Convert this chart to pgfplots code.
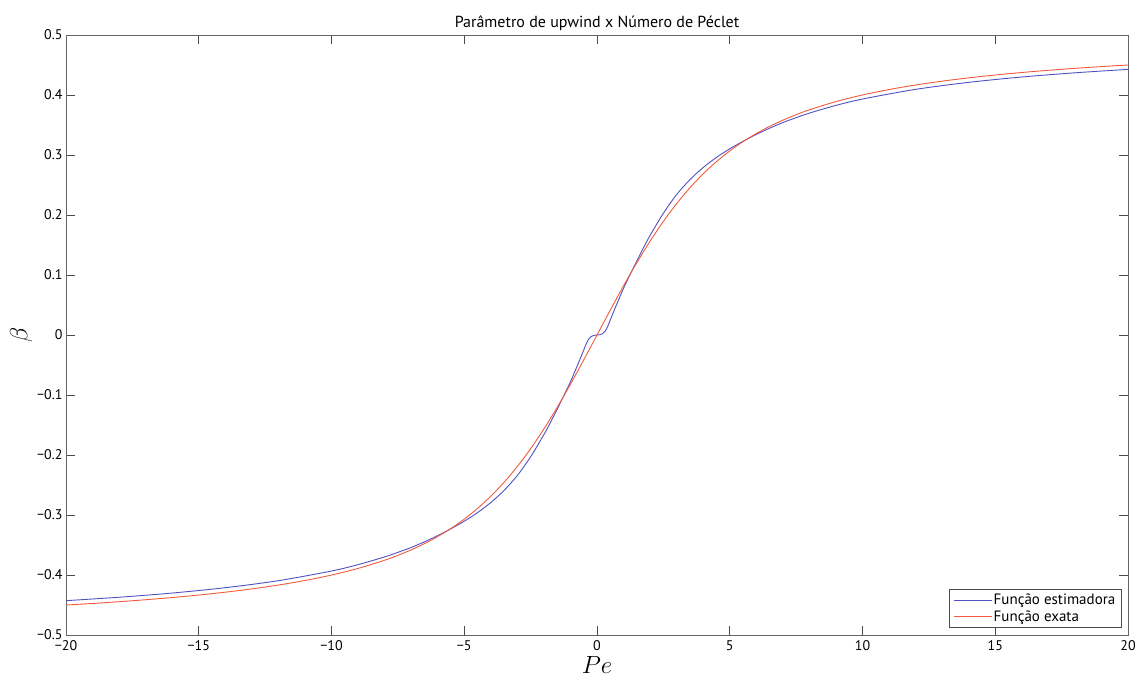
\documentclass[border=0pt]{standalone}
\usepackage{pgfplots}
\pgfplotsset{compat=1.18}
\usepackage{fontspec}
\setmainfont{PT Sans}
\definecolor{estblue}{RGB}{80,80,195}
\definecolor{exared}{RGB}{242,90,60}
\begin{document}
\begin{tikzpicture}
\begin{axis}[
  scale only axis,
  width=1062pt, height=600pt,
  xmin=-20, xmax=20, ymin=-0.5, ymax=0.5,
  xtick={-20,-15,...,20},
  xticklabels={−20,−15,−10,−5,0,5,10,15,20},
  ytick={-0.5,-0.4,...,0.51},
  yticklabels={−0.5,−0.4,−0.3,−0.2,−0.1,0,0.1,0.2,0.3,0.4,0.5},
  tick align=inside,
  major tick length=9pt,
  tick style={black!70, line width=0.6pt},
  axis line style={black!60, line width=0.8pt},
  ticklabel style={font=\fontsize{14}{16}\selectfont},
  xticklabel style={yshift=-2pt},
  title={Parâmetro de upwind x Número de Péclet},
  title style={font=\fontsize{16}{18}\selectfont, yshift=-5pt},
  xlabel={$Pe$},
  ylabel={$\beta$},
  xlabel style={font=\fontsize{24}{26}\selectfont, yshift=1pt},
  ylabel style={font=\fontsize{24}{26}\selectfont, yshift=-2pt},
  legend cell align=left,
  legend style={font=\fontsize{15}{17}\selectfont, draw=black!70, line width=0.6pt, inner xsep=4pt, inner ysep=3pt, at={(0.994,0.012)}, anchor=south east, row sep=0pt},
  legend image post style={xscale=2.2, line width=0.7pt},
  every axis plot/.append style={line width=0.9pt, smooth},
]
\addplot[estblue] coordinates {
(-20,-0.4427)(-18,-0.4370)(-16,-0.4300)(-14,-0.4211)(-12,-0.4094)(-10,-0.3933)
(-9,-0.3827)(-8,-0.3698)(-7.5,-0.3622)(-7,-0.3541)(-6.5,-0.3447)(-6,-0.3343)
(-5.5,-0.3228)(-5,-0.3103)(-4.5,-0.2960)(-4,-0.2792)(-3.5,-0.2589)(-3,-0.2341)
(-2.5,-0.2029)(-2,-0.1660)(-1.75,-0.1454)(-1.5,-0.1236)(-1.25,-0.1011)(-1,-0.0780)
(-0.875,-0.0650)(-0.75,-0.0520)(-0.6,-0.0360)(-0.5,-0.0250)(-0.4,-0.0140)(-0.3,-0.0060)
(-0.2,-0.0020)(-0.1,-0.0005)(0,0)
(0.1,0.0005)(0.2,0.0020)(0.3,0.0060)(0.4,0.0140)(0.5,0.0250)(0.6,0.0360)
(0.75,0.0520)(0.875,0.0650)(1,0.0780)(1.25,0.1011)(1.5,0.1236)(1.75,0.1454)
(2,0.1660)(2.5,0.2029)(3,0.2341)(3.5,0.2589)(4,0.2792)(4.5,0.2960)
(5,0.3103)(5.5,0.3228)(6,0.3343)(6.5,0.3447)(7,0.3541)(7.5,0.3622)
(8,0.3698)(9,0.3827)(10,0.3933)(12,0.4094)(14,0.4211)(16,0.4300)
(18,0.4370)(20,0.4427)
};
\addlegendentry{Função estimadora}
\addplot[exared] coordinates {
(-20,-0.45)(-19,-0.44737)(-18,-0.44444)(-17,-0.44118)(-16,-0.4375)(-15,-0.43333)
(-14,-0.42857)(-13,-0.42308)(-12,-0.41667)(-11,-0.40910)(-10,-0.40005)(-9,-0.38901)
(-8,-0.37534)(-7.5,-0.36722)(-7,-0.35806)(-6.5,-0.34766)(-6,-0.33582)(-5.5,-0.32231)
(-5,-0.30678)(-4.5,-0.28901)(-4,-0.26866)(-3.5,-0.24542)(-3,-0.21906)(-2.5,-0.18943)
(-2,-0.15652)(-1.75,-0.13892)(-1.5,-0.12055)(-1.25,-0.10155)(-1,-0.08198)(-0.75,-0.06191)
(-0.5,-0.04150)(-0.25,-0.02081)(0,0)(0.25,0.02081)(0.5,0.04150)(0.75,0.06191)
(1,0.08198)(1.25,0.10155)(1.5,0.12055)(1.75,0.13892)(2,0.15652)(2.5,0.18943)
(3,0.21906)(3.5,0.24542)(4,0.26866)(4.5,0.28901)(5,0.30678)(5.5,0.32231)
(6,0.33582)(6.5,0.34766)(7,0.35806)(7.5,0.36722)(8,0.37534)(9,0.38901)
(10,0.40005)(11,0.40910)(12,0.41667)(13,0.42308)(14,0.42857)(15,0.43333)
(16,0.4375)(17,0.44118)(18,0.44444)(19,0.44737)(20,0.45)
};
\addlegendentry{Função exata}
\end{axis}
\path (current axis.south west) ++(-66pt,-45pt) coordinate (bbA);
\path (current axis.north east) ++(12pt,35pt) coordinate (bbB);
\path (bbA) (bbB);
\end{tikzpicture}
\end{document}
